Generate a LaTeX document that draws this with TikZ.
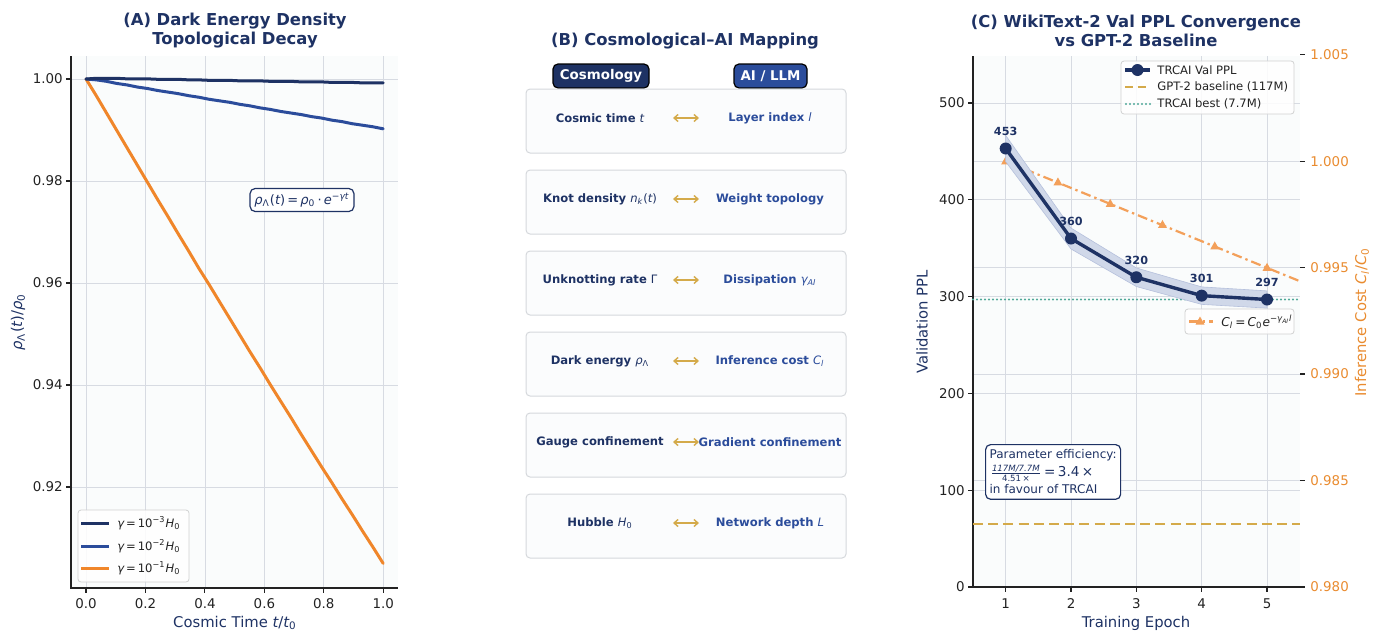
\documentclass[tikz,border=0pt]{standalone}
\usepackage{fontspec}
\setmainfont{DejaVu Sans}
\usetikzlibrary{arrows.meta}
\definecolor{navy}{HTML}{1E3264}
\definecolor{blueb}{HTML}{2B4C9B}
\definecolor{orangeA}{HTML}{F0862A}
\definecolor{orangeC}{HTML}{F3A05A}
\definecolor{orangeT}{HTML}{E98B2F}
\definecolor{gold}{HTML}{D4AA4A}
\definecolor{teal}{HTML}{4FA898}
\definecolor{gridc}{HTML}{D7DBE2}
\definecolor{axbg}{HTML}{FAFCFC}
\definecolor{rowbg}{HTML}{FBFCFD}
\definecolor{rowbd}{HTML}{D5D8DC}
\definecolor{tickc}{HTML}{222222}
\newcommand\mi[1]{{\mdseries\itshape #1}}
\newcommand\sbs[1]{\textsubscript{\mdseries #1}}
\newcommand\fsTitle{\fontsize{8.2}{9.5}\selectfont\bfseries}
\newcommand\fsTick{\fontsize{6.7}{8}\selectfont}
\newcommand\fsLab{\fontsize{7.4}{9}\selectfont}
\newcommand\fsLeg{\fontsize{5.8}{7}\selectfont}
\newcommand\fsRow{\fontsize{5.8}{7}\selectfont\bfseries}
\newcommand\fsHead{\fontsize{6.7}{8}\selectfont\bfseries}
\begin{document}
\begin{tikzpicture}[x=0.5pt,y=-0.5pt,
  declare function={pax(\t)=86+297.3*\t; pay(\v)=79+5100*(1-\v); pcx(\x)=973+65.333*(\x-0.5); pcy(\v)=587-0.968*\v; pcr(\c)=587-(\c-0.98)*1000*21.28;},
  gridline/.style={draw=gridc, line width=0.4pt},
  spine/.style={draw=tickc, line width=0.55pt},
  ticklab/.style={text=tickc, font=\fsTick, inner sep=0pt},
  ptitle/.style={text=navy, font=\fsTitle, align=center, inner sep=0pt},
  axlab/.style={text=navy, font=\fsLab, inner sep=0pt},
  legbox/.style={fill=white, fill opacity=0.85, draw=black!18, line width=0.4pt, rounded corners=1.5pt},
  legtxt/.style={text=tickc, font=\fsLeg, anchor=west, inner sep=0pt},
  rowbox/.style={fill=rowbg, draw=rowbd, line width=0.5pt, rounded corners=2pt},
  lefttxt/.style={text=navy, font=\fsRow, inner sep=0pt},
  righttxt/.style={text=blueb, font=\fsRow, inner sep=0pt},
  maparrow/.style={draw=gold, line width=0.7pt, {Straight Barb[length=2pt,width=3.5pt]}-{Straight Barb[length=2pt,width=3.5pt]}},
  headbox/.style={draw=black, line width=0.6pt, rounded corners=2.5pt, text=white, font=\fsHead, minimum height=12pt, inner sep=0pt},
  ptlab/.style={text=navy, font=\fontsize{5.6}{7}\selectfont\bfseries, inner sep=0pt},
  annobox/.style={draw=navy, line width=0.6pt, rounded corners=2.5pt, fill=white, text=navy},
  bestline/.style={teal, line width=1.1pt, line cap=round, dash pattern=on 0pt off 2pt}
]
\useasboundingbox (0,0) rectangle (1379,633);

% ================= Panel A =================
\fill[axbg] (71,56) rectangle (398,588);
\foreach \t in {0,0.2,0.4,0.6,0.8,1.0} \draw[gridline] ({pax(\t)},56) -- ({pax(\t)},588);
\foreach \v in {1,0.98,0.96,0.94,0.92} \draw[gridline] (71,{pay(\v)}) -- (398,{pay(\v)});
\draw[spine] (71,56) -- (71,588) -- (398,588);
\foreach \t/\l in {0/0.0,0.2/0.2,0.4/0.4,0.6/0.6,0.8/0.8,1.0/1.0} {
  \draw[spine] ({pax(\t)},588) -- ({pax(\t)},593);
  \node[ticklab] (ax\l) at ({pax(\t)},604) {\l};
}
\foreach \v/\l in {1/1.00,0.98/0.98,0.96/0.96,0.94/0.94,0.92/0.92} {
  \draw[spine] (66,{pay(\v)}) -- (71,{pay(\v)});
  \node[ticklab, anchor=east] (ay\l) at (63,{pay(\v)}) {\l};
}
\draw[orangeA, line width=1.5pt, line cap=round] plot[domain=0:1, samples=30] ({pax(\x)},{pay(exp(-0.1*\x))});
\draw[blueb, line width=1.5pt, line cap=round] plot[domain=0:1, samples=30] ({pax(\x)},{pay(exp(-0.01*\x))});
\draw[navy, line width=1.5pt, line cap=round] plot[domain=0:1, samples=30] ({pax(\x)},{pay(exp(-0.001*\x))});
\node[annobox, font=\fontsize{6.5}{8}\selectfont, inner sep=2.2pt] (formA) at (302,200)
  {\mi{ρ}\sbs{Λ}(\mi{t})\,=\,\mi{ρ}\sbs{0}\,·\,\mi{e}\textsuperscript{−\mi{γt}}};
\draw[legbox] (78,510) rectangle (189,582);
\draw[navy, line width=1.5pt] (81,523) -- (109,523);
\draw[blueb, line width=1.5pt] (81,546) -- (109,546);
\draw[orangeA, line width=1.5pt] (81,568) -- (109,568);
\node[legtxt] (legA1) at (117,523) {\mi{γ}\,=\,10\textsuperscript{−3}\mi{H}\sbs{0}};
\node[legtxt] (legA2) at (117,546) {\mi{γ}\,=\,10\textsuperscript{−2}\mi{H}\sbs{0}};
\node[legtxt] (legA3) at (117,568) {\mi{γ}\,=\,10\textsuperscript{−1}\mi{H}\sbs{0}};
\node[axlab, rotate=90] (ylabA) at (18,322) {\mi{ρ}\sbs{Λ}(\mi{t})/\mi{ρ}\sbs{0}};
\node[axlab] (xlabA) at (235,623) {Cosmic Time \mi{t}/\mi{t}\sbs{0}};
\node[ptitle] (titleA) at (235,31) {(A) Dark Energy Density\\Topological Decay};

% ================= Panel B =================
\node[ptitle] (titleB) at (685,41) {(B) Cosmological–AI Mapping};
\node[headbox, fill=navy, minimum width=48pt] (hcos) at (601,76) {Cosmology};
\node[headbox, fill=blueb, minimum width=36.5pt] (hai) at (770.5,76) {AI / LLM};
\foreach \k/\lt/\rt in {
  0/{Cosmic time \mi{t}}/{Layer index \mi{l}},
  1/{Knot density \mi{n}\sbs{\mi{k}}{\mdseries(}\mi{t}{\mdseries)}}/{Weight topology},
  2/{Unknotting rate {\mdseries Γ}}/{Dissipation \mi{γ}\sbs{\mi{AI}}},
  3/{Dark energy \mi{ρ}\sbs{Λ}}/{Inference cost \mi{C}\sbs{\mi{l}}},
  4/{Gauge confinement}/{Gradient confinement},
  5/{Hubble \mi{H}\sbs{0}}/{Network depth \mi{L}}} {
  \pgfmathsetmacro\rtop{89+81*\k}
  \draw[rowbox] (526,\rtop) rectangle (846,\rtop+64);
  \node[lefttxt] (rowL\k) at (600,\rtop+29) {\lt};
  \node[righttxt] (rowR\k) at (770,\rtop+29) {\rt};
  \coordinate (arL\k) at (673,\rtop+29);
  \coordinate (arR\k) at (699,\rtop+29);
  \draw[maparrow] (arL\k) -- (arR\k);
}

% ================= Panel C =================
\fill[axbg] (973,56) rectangle (1300,587);
\foreach \x in {1,2,3,4,5} \draw[gridline] ({pcx(\x)},56) -- ({pcx(\x)},587);
\foreach \v in {100,200,300,400,500} \draw[gridline] (973,{pcy(\v)}) -- (1300,{pcy(\v)});
\foreach \c in {0.985,0.990,0.995,1.000} \draw[gridline] (973,{pcr(\c)}) -- (1300,{pcr(\c)});
\draw[spine] (973,56) -- (973,587) -- (1300,587);
\foreach \x in {1,2,3,4,5} {
  \draw[spine] ({pcx(\x)},587) -- ({pcx(\x)},592);
  \node[ticklab] (cx\x) at ({pcx(\x)},604) {\x};
}
\foreach \v in {0,100,200,300,400,500} {
  \draw[spine] (968,{pcy(\v)}) -- (973,{pcy(\v)});
  \node[ticklab, anchor=east] (cy\v) at (965,{pcy(\v)}) {\v};
}
\foreach \c/\l in {0.980/0.980,0.985/0.985,0.990/0.990,0.995/0.995,1.000/1.000,1.005/1.005} {
  \draw[spine] (1300,{pcr(\c)}) -- (1305,{pcr(\c)});
  \node[ticklab, anchor=west, text=orangeT] (cr\l) at (1310,{pcr(\c)}) {\l};
}
% baseline and best
\draw[gold, line width=1.3pt, dash pattern=on 5pt off 2.6pt] (973,{pcy(65)}) -- (1300,{pcy(65)});
\draw[bestline] (973,{pcy(297)}) -- (1300,{pcy(297)});
% inference cost
\draw[orangeC, line width=1.1pt, dash pattern=on 5pt off 2pt on 1.2pt off 2pt] plot[domain=1:5.5, samples=2] ({pcx(\x)},{pcr(1-0.00125*(\x-1))});
\foreach \x in {1,1.8,2.6,3.4,4.2,5.0}
  \fill[orangeC] ({pcx(\x)},{pcr(1-0.00125*(\x-1))}) ++(0,-5) -- ++(4.5,8) -- ++(-9,0) -- cycle;
% band
\fill[blueb!22, draw=blueb!35, line width=0.3pt]
  ({pcx(1)},{pcy(453*1.03)}) -- ({pcx(2)},{pcy(360*1.03)}) -- ({pcx(3)},{pcy(320*1.03)}) -- ({pcx(4)},{pcy(301*1.03)}) -- ({pcx(5)},{pcy(297*1.03)})
  -- ({pcx(5)},{pcy(297*0.97)}) -- ({pcx(4)},{pcy(301*0.97)}) -- ({pcx(3)},{pcy(320*0.97)}) -- ({pcx(2)},{pcy(360*0.97)}) -- ({pcx(1)},{pcy(453*0.97)}) -- cycle;
\draw[navy, line width=1.7pt, line join=round]
  ({pcx(1)},{pcy(453)}) -- ({pcx(2)},{pcy(360)}) -- ({pcx(3)},{pcy(320)}) -- ({pcx(4)},{pcy(301)}) -- ({pcx(5)},{pcy(297)});
\foreach \x/\v in {1/453,2/360,3/320,4/301,5/297} {
  \fill[navy] ({pcx(\x)},{pcy(\v)}) circle (3pt);
  \node[ptlab] (pl\x) at ({pcx(\x)},{pcy(\v)-17}) {\v};
}
% legend 1
\draw[legbox] (1121,61) rectangle (1294,114);
\draw[navy, line width=1.7pt] (1125,70) -- (1150,70);
\fill[navy] (1137.5,70) circle (3pt);
\draw[gold, line width=1.3pt, dash pattern=on 4pt off 2.3pt] (1125,87) -- (1150,87);
\draw[bestline] (1126,104) -- (1150,104);
\node[legtxt] (legC1) at (1157,70) {TRCAI Val PPL};
\node[legtxt] (legC2) at (1157,87) {GPT-2 baseline (117M)};
\node[legtxt] (legC3) at (1157,104) {TRCAI best (7.7M)};
% legend 2
\draw[legbox] (1185,309) rectangle (1294,334);
\draw[orangeC, line width=1.1pt, dash pattern=on 5pt off 2pt on 1.2pt off 2pt] (1189,321.5) -- (1213,321.5);
\fill[orangeC] (1200,321.5) ++(0,-5) -- ++(4.5,8) -- ++(-9,0) -- cycle;
\node[legtxt, font=\fontsize{6.1}{7}\selectfont] (legC4) at (1221,321.5) {\mi{C}\sbs{\mi{l}}\,=\,\mi{C}\sbs{0}\mi{e}\textsuperscript{−\mi{γ}\sbs{\mi{AI}}\mi{l}}};
% parameter box
\node[annobox, anchor=north west, align=left, font=\fontsize{6}{8.75}\selectfont, inner xsep=2pt, inner ysep=2.6pt] (param) at (985,444)
  {Parameter efficiency:\\
   \smash{\(\frac{\mbox{\fontsize{4.3}{5}\selectfont\itshape 117M/7.7M}}{\mbox{\fontsize{4.3}{5}\selectfont 4.51\,×}}\)}\,{\fontsize{6.8}{8}\selectfont=\,3.4\,×}\\
   in favour of TRCAI};
\node[axlab, rotate=90] (ylabC) at (922,322) {Validation PPL};
\node[axlab, rotate=90, text=orangeT] (ylabC2) at (1362,322) {Inference Cost \mi{C}\sbs{\mi{l}}/\mi{C}\sbs{0}};
\node[axlab] (xlabC) at (1136,623) {Training Epoch};
\node[ptitle] (titleC) at (1136,31) {(C) WikiText-2 Val PPL Convergence\\vs GPT-2 Baseline};
\end{tikzpicture}
\end{document}
